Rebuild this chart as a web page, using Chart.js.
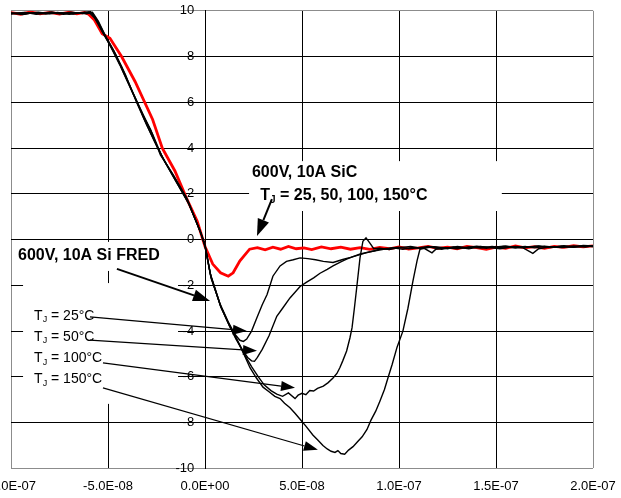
<!DOCTYPE html>
<html>
<head>
<meta charset="utf-8">
<script src="https://cdn.jsdelivr.net/npm/chart.js@4.4.1/dist/chart.umd.min.js"></script>
<style>
  html, body { margin: 0; padding: 0; background: #fff; }
  #wrap { width: 621px; height: 498px; position: relative; }
</style>
</head>
<body>
<div id="wrap"><canvas id="myChart"></canvas></div>
<script>
// ========================================
// Data (time in ns, current in A)
// ========================================
const xTicks = [-100, -50, 0, 50, 100, 150, 200];
const yTicks = [-10, -8, -6, -4, -2, 0, 2, 4, 6, 8, 10];

// SiC, all temperatures (red)
const tSiC = [
  -100, -95, -90, -85, -80, -75, -70, -66, -62, -60,
  -57, -53, -49, -43, -36, -27, -22, -15.5, -9.5, -4,
  0, 4, 8, 12, 14.5, 18, 23, 27, 31, 35,
  39, 43, 47, 51, 55, 60, 65, 70, 75, 80,
  85, 90, 95, 100, 105, 110, 115, 120, 125, 130,
  135, 140, 145, 150, 155, 160, 165, 170, 175, 180,
  185, 190, 195, 200
];
const vSiC = [
  9.92, 9.85, 9.95, 9.87, 9.93, 9.86, 9.94, 9.87, 9.93, 9.85,
  9.6, 9.0, 8.8, 8.0, 6.9, 5.25, 4.0, 3.0, 1.8, 0.8,
  -0.3, -1.07, -1.45, -1.6, -1.45, -0.93, -0.42, -0.35, -0.45, -0.33,
  -0.42, -0.3, -0.4, -0.36, -0.44, -0.32, -0.4, -0.33, -0.42, -0.35,
  -0.43, -0.34, -0.4, -0.32, -0.41, -0.36, -0.3, -0.38, -0.33, -0.4,
  -0.3, -0.35, -0.43, -0.33, -0.38, -0.28, -0.36, -0.31, -0.38, -0.3,
  -0.34, -0.27, -0.32, -0.27
];

// Si FRED, Tj = 25 C
const t25 = [
  -100, -94, -88, -82, -76, -70, -64, -60, -57, -54,
  -49, -44, -37, -32, -28, -23, -16.5, -9.3, -2.6, 0,
  2.6, 7.7, 12, 15.5, 18, 19.8, 21.5, 24, 26.8, 29.5,
  32, 35, 38.7, 42, 45.5, 49, 53, 57, 61, 66,
  71, 75, 79, 83, 87, 90, 95, 100, 105, 110,
  115, 120, 125, 130, 135, 140, 145, 150, 155, 160,
  165, 170, 175, 180, 185, 190, 195, 200
];
const v25 = [
  9.9, 9.84, 9.92, 9.86, 9.93, 9.85, 9.92, 9.95, 9.7, 9.25,
  8.5, 7.65, 6.35, 5.45, 4.8, 3.7, 2.85, 1.8, 0.4, -0.2,
  -1.45, -2.8, -3.6, -4.15, -4.4, -4.45, -4.35, -4.0, -3.4, -2.85,
  -2.4, -1.6, -1.15, -0.95, -0.88, -0.8, -0.83, -0.88, -0.95, -1.0,
  -0.87, -0.78, -0.68, -0.58, -0.5, -0.42, -0.38, -0.33, -0.4, -0.36,
  -0.3, -0.34, -0.4, -0.3, -0.35, -0.31, -0.38, -0.32, -0.28, -0.34,
  -0.3, -0.36, -0.29, -0.33, -0.27, -0.31, -0.26, -0.28
];

// Si FRED, Tj = 50 C
const t50 = [
  -100, -93, -87, -81, -75, -69, -63, -59, -56, -53,
  -48, -43, -37, -31, -27, -22, -16, -9, -2.4, 0,
  3, 8, 12.5, 16, 19.5, 22, 24, 25.5, 27, 29.5,
  33, 37, 40, 43.8, 49, 52.6, 56, 59.3, 63, 66,
  70, 73, 77, 80, 84, 87, 92, 97, 102, 107,
  112, 118, 124, 130, 136, 142, 148, 154, 160, 166,
  172, 178, 184, 190, 196, 200
];
const v50 = [
  9.88, 9.93, 9.85, 9.91, 9.87, 9.94, 9.88, 9.97, 9.6, 9.1,
  8.35, 7.55, 6.4, 5.3, 4.6, 3.6, 2.75, 1.7, 0.35, -0.25,
  -1.6, -2.9, -3.75, -4.35, -4.85, -5.15, -5.3, -5.32, -5.15, -4.8,
  -4.2, -3.35, -3.0, -2.55, -2.05, -1.85, -1.67, -1.47, -1.3, -1.15,
  -0.97, -0.85, -0.72, -0.63, -0.55, -0.5, -0.42, -0.36, -0.42, -0.34,
  -0.38, -0.31, -0.37, -0.33, -0.4, -0.3, -0.35, -0.3, -0.37, -0.32,
  -0.29, -0.35, -0.3, -0.33, -0.27, -0.3
];

// Si FRED, Tj = 100 C
const t100 = [
  -100, -93, -86, -80, -74, -68, -62, -58, -55, -52,
  -47, -42, -36, -31, -26, -21, -15, -8.5, -2.2, 0,
  3.2, 8.5, 13, 17, 20.5, 24, 27.5, 30.5, 34, 37,
  40, 43, 46.4, 48, 50, 52, 54, 56, 58, 61,
  63.5, 66, 68, 69.5, 71, 73, 74.7, 75.8, 77, 78.4,
  79.9, 81.4, 83, 85, 87, 90, 95, 100, 106, 111,
  116, 122, 128, 134, 140, 146, 152, 158, 164, 169,
  172, 178, 184, 190, 196, 200
];
const v100 = [
  9.91, 9.86, 9.94, 9.87, 9.92, 9.86, 9.93, 9.9, 9.5, 9.0,
  8.25, 7.3, 6.2, 5.2, 4.3, 3.45, 2.55, 1.6, 0.3, -0.3,
  -1.7, -3.0, -3.8, -4.45, -5.05, -5.55, -6.0, -6.35, -6.6, -6.75,
  -6.85, -6.7, -6.95, -6.8, -6.72, -6.78, -6.6, -6.62, -6.5, -6.4,
  -6.25, -6.05, -5.85, -5.6, -5.3, -4.87, -4.3, -3.85, -3.0, -1.95,
  -0.8, -0.07, 0.08, -0.15, -0.4, -0.38, -0.43, -0.35, -0.3, -0.38,
  -0.33, -0.42, -0.32, -0.37, -0.29, -0.34, -0.4, -0.31, -0.36, -0.6,
  -0.4, -0.31, -0.35, -0.28, -0.32, -0.27
];

// Si FRED, Tj = 150 C
const t150 = [
  -100, -92, -85, -79, -73, -67, -61, -58, -55, -51,
  -46, -41, -35, -30, -25, -20, -14, -8, -2, 0,
  3, 8, 12.5, 16.5, 20, 23.2, 26.5, 29.9, 33, 36,
  38.7, 41, 43.8, 46.5, 49, 52, 55.7, 58, 60.8, 63,
  65, 67, 68.5, 70, 72, 74, 76.3, 78.5, 81, 83.5,
  85.5, 88, 90.2, 92.5, 94.3, 96.5, 99, 102, 104.6, 107.2,
  109.3, 110.8, 113, 117, 119, 124, 130, 136, 142, 148,
  154, 160, 166, 172, 178, 184, 190, 196, 200
];
const v150 = [
  9.86, 9.92, 9.88, 9.95, 9.85, 9.91, 9.87, 9.93, 9.55, 8.85,
  8.1, 7.2, 5.95, 5.0, 4.1, 3.3, 2.4, 1.5, 0.25, -0.28,
  -1.6, -2.9, -3.75, -4.4, -5.0, -5.6, -6.05, -6.45, -6.65, -6.85,
  -6.95, -7.15, -7.35, -7.6, -7.85, -8.15, -8.55, -8.75, -9.0, -9.15,
  -9.25, -9.3, -9.22, -9.35, -9.38, -9.2, -9.05, -8.85, -8.62, -8.3,
  -7.9, -7.5, -7.05, -6.55, -6.05, -5.45, -4.7, -4.0, -3.0, -1.8,
  -0.93, -0.42, -0.38, -0.58, -0.42, -0.35, -0.4, -0.32, -0.37, -0.3,
  -0.36, -0.3, -0.34, -0.28, -0.33, -0.29, -0.34, -0.28, -0.3
];

// ========================================
// Annotations (data units)
// ========================================
const noteBoxes = [
  [22.2, 3.43, 153, 1.25],      // SiC label
  [-100, -0.1, -20.6, -1.37],   // Si FRED label
  [-94.3, -1.9, -13.9, -7.18]   // Tj labels
];
const noteTexts = [
  { x: 24.2, y: 2.91, bold: true, size: 16, parts: [['600V, 10A SiC']] },
  { x: 28.5, y: 1.93, bold: true, size: 16, parts: [['T'], ['J', 1], [' = 25, 50, 100, 150°C']] },
  { x: -96.4, y: -0.72, bold: true, size: 16, parts: [['600V, 10A Si FRED']] },
  { x: -88.1, y: -3.34, size: 14, parts: [['T'], ['J', 1], [' = 25°C']] },
  { x: -88.1, y: -4.25, size: 14, parts: [['T'], ['J', 1], [' = 50°C']] },
  { x: -88.1, y: -5.2, size: 14, parts: [['T'], ['J', 1], [' = 100°C']] },
  { x: -88.1, y: -6.12, size: 14, parts: [['T'], ['J', 1], [' = 150°C']] }
];
const noteArrows = [
  [34.5, 1.77, 26.8, 0.16, 2],
  [-45.4, -1.28, 2.6, -2.68, 2],
  [-59.3, -3.38, 21.6, -3.99, 1.2],
  [-59.3, -4.39, 26.8, -4.86, 1.2],
  [-52.6, -5.39, 46.4, -6.48, 1.2],
  [-52.6, -6.48, 58.2, -9.19, 1.2]
];

const FONT = "'Liberation Sans', Arial, sans-serif";

function pts(ts, vs) {
  return ts.map((t, i) => ({ x: t, y: vs[i] }));
}

function fmtTick(v) {
  const s = (v * 1e-9).toExponential(1).toUpperCase();
  const [m, e] = s.split('E');
  const sign = e[0] === '-' ? '-' : '+';
  const digits = e.replace(/[+-]/, '').padStart(2, '0');
  return m + 'E' + sign + digits;
}

const notesPlugin = {
  id: 'notes',
  beforeDatasetsDraw(chart) {
    const { ctx, scales: { x, y } } = chart;
    ctx.save();
    ctx.fillStyle = '#fff';
    noteBoxes.forEach(b => {
      const x1 = x.getPixelForValue(b[0]), y1 = y.getPixelForValue(b[1]);
      const x2 = x.getPixelForValue(b[2]), y2 = y.getPixelForValue(b[3]);
      ctx.fillRect(x1 + 1, y1, x2 - x1 - 1, y2 - y1);
    });
    ctx.restore();
  },
  afterDatasetsDraw(chart) {
    const { ctx, scales: { x, y } } = chart;
    ctx.save();
    ctx.fillStyle = '#000';
    ctx.textBaseline = 'middle';
    noteTexts.forEach(n => {
      let px = x.getPixelForValue(n.x);
      const py = y.getPixelForValue(n.y);
      n.parts.forEach(p => {
        const sub = p[1] === 1;
        const size = sub ? Math.round(n.size * 0.62) : n.size;
        ctx.font = (n.bold ? 'bold ' : '') + size + 'px ' + FONT;
        ctx.fillText(p[0], px, sub ? py + n.size * 0.28 : py);
        px += ctx.measureText(p[0]).width;
      });
    });

    ctx.strokeStyle = '#000';
    noteArrows.forEach(a => {
      const x1 = x.getPixelForValue(a[0]), y1 = y.getPixelForValue(a[1]);
      const x2 = x.getPixelForValue(a[2]), y2 = y.getPixelForValue(a[3]);
      const ang = Math.atan2(y2 - y1, x2 - x1);
      const len = a[4] > 1.5 ? 17 : 14;
      const half = a[4] > 1.5 ? 6 : 5;
      const bx = x2 - len * Math.cos(ang), by = y2 - len * Math.sin(ang);
      ctx.lineWidth = a[4];
      ctx.beginPath();
      ctx.moveTo(x1, y1);
      ctx.lineTo(bx, by);
      ctx.stroke();
      ctx.beginPath();
      ctx.moveTo(x2, y2);
      ctx.lineTo(bx - half * Math.sin(ang), by + half * Math.cos(ang));
      ctx.lineTo(bx + half * Math.sin(ang), by - half * Math.cos(ang));
      ctx.closePath();
      ctx.fill();
    });
    ctx.restore();
  }
};

const edgeGray = '#8c8c8c';

const blackLine = (label, ts, vs) => ({
  label,
  data: pts(ts, vs),
  borderColor: '#000',
  borderWidth: 1.4,
  pointRadius: 0,
  tension: 0,
  fill: false
});

new Chart(document.getElementById('myChart'), {
  type: 'line',
  data: {
    datasets: [
      blackLine('Si 25', t25, v25),
      blackLine('Si 50', t50, v50),
      blackLine('Si 100', t100, v100),
      blackLine('Si 150', t150, v150),
      {
        label: 'SiC',
        data: pts(tSiC, vSiC),
        borderColor: '#ff0000',
        borderWidth: 2.8,
        pointRadius: 0,
        tension: 0,
        fill: false
      }
    ]
  },
  options: {
    responsive: true,
    maintainAspectRatio: false,
    animation: false,
    devicePixelRatio: 1,
    layout: { padding: { top: 9, left: 11, right: 28, bottom: -6 } },
    plugins: {
      legend: { display: false },
      tooltip: { enabled: false }
    },
    scales: {
      x: {
        type: 'linear',
        min: xTicks[0],
        max: xTicks[xTicks.length - 1],
        afterBuildTicks: s => { s.ticks = xTicks.map(v => ({ value: v })); },
        afterFit: s => { s.paddingLeft = 0; s.paddingRight = 0; },
        ticks: {
          callback: fmtTick,
          color: '#000',
          padding: 10,
          maxRotation: 0,
          autoSkip: false,
          font: { family: FONT, size: 13 }
        },
        grid: {
          drawTicks: false,
          lineWidth: 1,
          color: c => (c.tick && (c.tick.value === xTicks[0] || c.tick.value === xTicks[xTicks.length - 1])) ? edgeGray : '#000'
        },
        border: { display: false }
      },
      y: {
        type: 'linear',
        min: yTicks[0],
        max: yTicks[yTicks.length - 1],
        position: { x: 0 },
        afterBuildTicks: s => { s.ticks = yTicks.map(v => ({ value: v })); },
        ticks: {
          color: '#000',
          padding: 3,
          // axis sits at x = 0, labels end ~12px left of it
          callback: v => v + '   ',
          font: { family: FONT, size: 13 }
        },
        grid: {
          tickLength: 6,
          lineWidth: 1,
          color: c => (c.tick && (c.tick.value === yTicks[0] || c.tick.value === yTicks[yTicks.length - 1])) ? edgeGray : '#000'
        },
        border: { display: true, color: '#000', width: 1 }
      }
    }
  },
  plugins: [notesPlugin]
});
</script>
</body>
</html>
